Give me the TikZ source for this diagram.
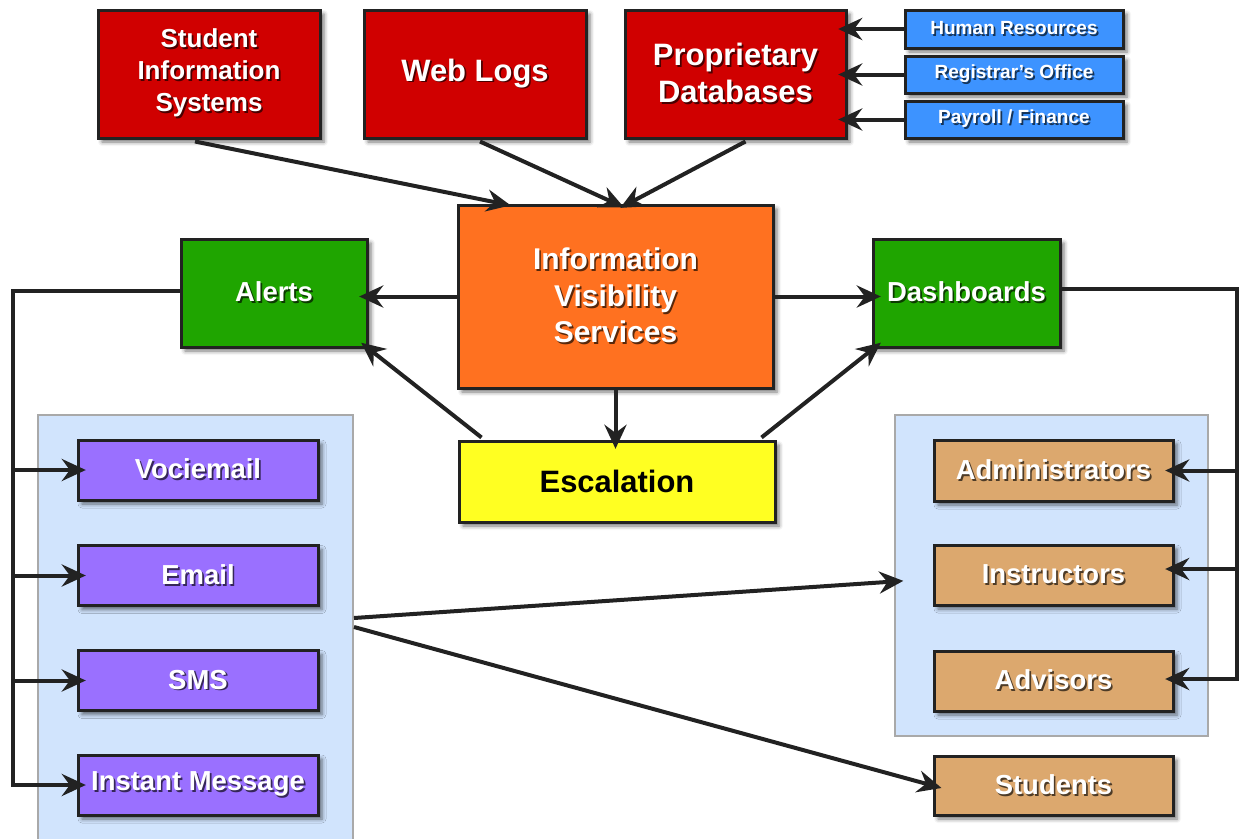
\documentclass[tikz,border=0pt]{standalone}
\usepackage{fontspec}
\setmainfont{Liberation Sans}
\usetikzlibrary{arrows.meta,calc,shadows,shadows.blur}
\definecolor{lc}{HTML}{222222}
\definecolor{cred}{HTML}{D00000}
\definecolor{cblue}{HTML}{3D93FF}
\definecolor{corange}{HTML}{FF7120}
\definecolor{cgreen}{HTML}{1FA500}
\definecolor{cyellow}{HTML}{FFFF22}
\definecolor{cpurple}{HTML}{9A70FF}
\definecolor{ctan}{HTML}{DCA86E}
\definecolor{ccont}{HTML}{D1E4FD}
\definecolor{ccontb}{HTML}{A9A9A9}
\colorlet{tshc}{black}
\newcommand\tsh[1]{\makebox[0pt][l]{\kern1.3pt\raisebox{-1.3pt}{\color{tshc}#1}}#1}
\begin{document}
\begin{tikzpicture}[x=0.75pt,y=-0.75pt,
  sz/.style 2 args={minimum width=#1*0.75pt, minimum height=#2*0.75pt},
  box/.style={draw=lc, line width=2.25pt, fill=#1, text=white, align=center, inner sep=0pt,
    execute at begin node={\colorlet{tshc}{#1!35!black}},
    blur shadow={shadow xshift=3pt, shadow yshift=-3pt, shadow blur radius=3pt, shadow opacity=55}},
  cont/.style={draw=ccontb, fill=ccont, line width=1.5pt, inner sep=0pt},
  fmain/.style={font=\fontsize{20.6}{26}\selectfont\bfseries},
  fbig/.style={font=\fontsize{23.2}{27.7}\selectfont\bfseries},
  fsis/.style={font=\fontsize{19.5}{24}\selectfont\bfseries},
  fivs/.style={font=\fontsize{22.5}{27.4}\selectfont\bfseries},
  fsmall/.style={font=\fontsize{14.3}{17}\selectfont\bfseries},
  conn/.style={draw=lc, line width=3pt},
  arr/.style={conn, -{Stealth[length=18pt,width=16.5pt,inset=6pt]}, shorten >=-7pt},
]
\useasboundingbox (0,0) rectangle (1239,839);

% containers
\node[cont, sz={315}{442}] (leftc) at (195.5,636) {};
\node[cont, sz={313}{321}] (rightc) at (1051.5,575.5) {};

% top sources
\node[box=cred, fsis, sz={222}{128}] (sis) at (209,74) {\tsh{Student}\\\tsh{Information}\\\tsh{Systems}};
\node[box=cred, fbig, sz={222}{128}] (web) at (475,74) {\tsh{Web Logs}};
\node[box=cred, fbig, sz={221}{128}] (pdb) at (735.5,74) {\tsh{Proprietary}\\\tsh{Databases}};
\node[box=cblue, fsmall, sz={218}{38}] (hr) at (1014,29) {\tsh{Human Resources}};
\node[box=cblue, fsmall, sz={218}{37}] (reg) at (1014,74.5) {\tsh{Registrar’s Office}};
\node[box=cblue, fsmall, sz={218}{37}] (pay) at (1014,119.5) {\tsh{Payroll / Finance}};

% centre
\node[box=corange, fivs, sz={315}{183}] (ivs) at (615.5,296.5) {\tsh{Information}\\\tsh{Visibility}\\\tsh{Services}};
\node[box=cgreen, fmain, sz={186}{108}] (alerts) at (274,293) {\tsh{Alerts}};
\node[box=cgreen, fmain, sz={187}{108}] (dash) at (966.5,293) {\tsh{Dashboards}};
\node[box=cyellow, fbig, text=black, sz={316}{81}] (esc) at (617,481.5) {Escalation};

% channels
\node[box=cpurple, fmain, sz={240}{60}] (vm) at (198,470) {\tsh{Vociemail}};
\node[box=cpurple, fmain, sz={240}{60}] (em) at (198,575.5) {\tsh{Email}};
\node[box=cpurple, fmain, sz={240}{60}] (sms) at (198,680.5) {\tsh{SMS}};
\node[box=cpurple, fmain, sz={240}{60}] (im) at (198,785) {\tsh{Instant Message}};

% audiences
\node[box=ctan, fmain, sz={239}{61}] (adm) at (1053.5,470.5) {\tsh{Administrators}};
\node[box=ctan, fmain, sz={239}{60}] (ins) at (1053.5,575) {\tsh{Instructors}};
\node[box=ctan, fmain, sz={239}{60}] (adv) at (1053.5,681) {\tsh{Advisors}};
\node[box=ctan, fmain, sz={239}{59}] (stu) at (1053.5,785.5) {\tsh{Students}};

% bus coordinates
\coordinate (lb) at (13,291);
\coordinate (rb) at (1237,289);
\coordinate (insin) at ($(ins.east)+(0,-6)$);
\coordinate (advin) at ($(adv.east)+(0,-2)$);

% connectors: sources
\draw[arr] ($(sis.south)+(-14,2)$) -- ($(ivs.north west)+(45,0)$);
\draw[arr] ($(web.south)+(5,2)$) -- ($(ivs.north)+(0,0)$);
\draw[arr] ($(pdb.south)+(10,2)$) -- ($(ivs.north)+(13,0)$);
\draw[arr] (hr.west) -- (hr.west -| pdb.east);
\draw[arr] (reg.west) -- (reg.west -| pdb.east);
\draw[arr] (pay.west) -- (pay.west -| pdb.east);

% centre connectors
\draw[arr] (ivs.west) -- (ivs.west -| alerts.east);
\draw[arr] (ivs.east) -- (ivs.east -| dash.west);
\draw[arr] (ivs.south) -- (ivs.south |- esc.north);
\draw[arr] ($(esc.north west)+(24,-2)$) -- (alerts.south east);
\draw[arr] ($(esc.north east)+(-15,-2)$) -- ($(dash.south west)+(2,0)$);

% alerts bus
\draw[conn] ($(alerts.west)+(0,-2)$) -- (lb) |- (im.west);
\draw[arr] (lb |- im.west) -- (im.west);
\draw[arr] (lb |- vm.west) -- (vm.west);
\draw[arr] (lb |- em.west) -- (em.west);
\draw[arr] (lb |- sms.west) -- (sms.west);

% dashboards bus
\draw[conn] ($(dash.east)+(0,-4)$) -- (rb) |- (advin);
\draw[arr] (rb |- advin) -- (advin);
\draw[arr] (rb |- adm.east) -- (adm.east);
\draw[arr] (rb |- insin) -- (insin);

% container links
\draw[arr] ($(leftc.east)+(0,-18)$) -- ($(rightc.west)+(0,6)$);
\draw[arr] ($(leftc.east)+(0,-9)$) -- (stu.west);
\end{tikzpicture}
\end{document}
